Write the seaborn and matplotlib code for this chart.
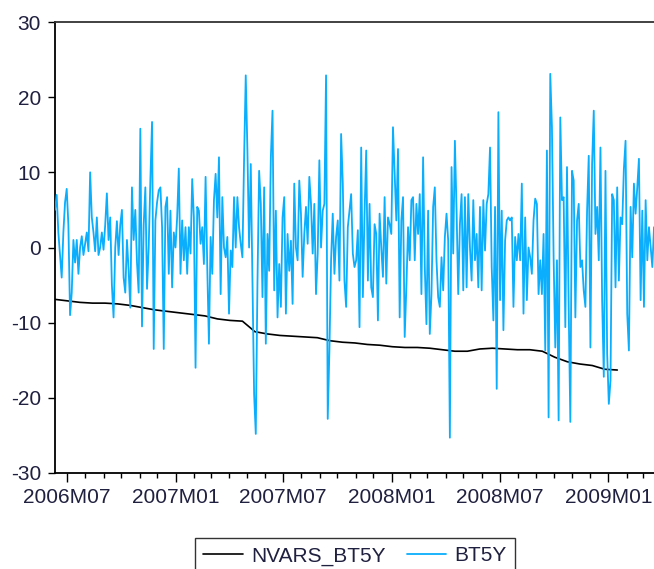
import matplotlib
matplotlib.use('Agg')
import numpy as np
import pandas as pd
import matplotlib.pyplot as plt
import matplotlib.dates as mdates
from matplotlib.ticker import FuncFormatter
import seaborn as sns

# ---- data (BT5Y, daily returns, in plot order) ----
bt5y_2006h2 = [5, 7, 2, -1, -4, 2, 6, 7.8, 3, -9, -6, 1, -2, 1, -3.5, 0, 1.5, -1, 0.5, 2,
               -0.5, 10, 4, 2, -0.5, 4, -1, 0, 2, -0.3, 3, 7.2, 1, 4, -5, -9.3, 0, 3.5, -1, 3,
               5, -4, -6, 1, -3, -8, 8, 1, 5, -2, -6, 15.8, -10.5, 3, 8, -5.5, 0, 9, 16.7, -13.5]
bt5y_2007a = [3.6, 6, 7.6, 8, 2.7, -13.5, 5.4, 6.7, -3.5, 4.9, -5.3, 2, 0, 4.0, 10.5, -3.5, 3.6, -1.7, 2.7, -3.5,
              2.7, -0.8, 9.1, 4.0, -16, 5.4, 4.9, 0.5, 2.7, -2.2, 9.4, -2.6, -12.8, 1.4, -3.5, 6.3, 9.8, 4.0, 12.0, -6.2,
              6.7, 0, -1.3, 1.4, -8.8, -0.4, -2.6, 6.7, 0, 6.7, 2.7, 0.5, -1.3, 11.6, 22.9, 12.9, 0, 11.1, -3.9, -19.5]
bt5y_2007b = [-24.8, -4.8, 10.2, 5.8, -6.6, 8.0, -12.8, 1.8, -3.1, 12.0, 18.2, -5.7, 4.9, -9.3, -2.2, -7.9, 4.0, 6.7, -8.8, 1.8,
              -3.1, 0.9, -7.5, 8.5, 0, -1.7, 8.9, 4.5, -3.9, 1.8, 5.4, 0.5, 9.4, 5.8, -0.8, 5.8, -6.2, -0.8, 11.6, 0,
              4.9, 5.8, 22.9, -22.8, -13.7, -1.7, 4.5, -3.5, 1.4, 3.6, -4.4, 15.1, 8.5, -4.4, -7.9, 2.7, 4.9, 7.1, -0.8, -2.6]
bt5y_2008a = [-1.7, 2.3, -10.6, 13.3, -6.6, 4.5, 12.9, -4.4, 5.8, -5.3, -6.6, 3.1, 1.8, -9.7, 4.5, 0, -3.9, 6.7, -4.8, 4.0,
              3.1, 1.8, 16.0, 9.8, 3.6, 13.1, -9.3, 3.6, 6.7, -11.9, -5.3, 2.7, -1.7, 6.3, 6.7, -1.7, 5.8, 1.8, 7.1, -6.2,
              12.0, -2.6, -10.2, 4.9, -11.5, -6.2, 5.4, 8.0, -1.7, -6.6, -7.9, -1.3, -5.7, 1.4, 4.5, 0.9, -25.3, 10.7, -0.8, 14.2]
bt5y_2008b = [4.9, -6.2, 3.1, 7.1, -5.7, 6.7, -5.3, 7.1, 0, -4.4, 6.3, -1.7, 1.8, -5.3, 5.4, -5.7, 6.3, -0.4, 5.8, 7.1,
              13.3, -2.6, -9.7, 5.4, -18.8, 18.0, -7.0, 4.9, -11.0, 0.9, 3.6, 4.0, 3.6, 4.0, -7.9, 1.4, -1.7, 1.8, -1.7, 8.5,
              -8.8, 4.0, -7.0, 0, -1.3, -3.5, 3.6, 6.5, 5.8, -6.2, -1.7, -6.2, 1.8, -13.7, 12.9, -22.6, 23.1, 16.0, -1.3, -13.3]
bt5y_2009 = [-1.7, -23, 17.3, 6.3, 6.7, -10.6, 10.7, -7.9, -23.2, 10.2, 8.9, -9.3, 3.6, 5.8, -2.6, -1.7, -5.7, -7.9, 4.9, 12.2,
             -13.3, 11.1, 18.2, 1.8, 5.4, -1.7, 13.3, -7.0, -17.2, 10.2, -14.1, -20.8, -17.7, 7.1, 6.3, -5.3, 8.0, -4.4, 4.0, 3.1,
             10.5, 14.2, -8.8, -13.7, 5.4, -1.3, 8.5, 4.5, 8.0, 11.8, -7.0, 4.9, -7.9, 6.3, -1.7, 2.7, 0, -2.6, 2.7]
bt5y = bt5y_2006h2 + bt5y_2007a + bt5y_2007b + bt5y_2008a + bt5y_2008b + bt5y_2009

nvars_bt5y = [-6.9, -7.1, -7.3, -7.4, -7.4, -7.5, -7.7, -8.0, -8.3, -8.5,
              -8.7, -8.9, -9.1, -9.5, -9.7, -9.8, -11.2, -11.5, -11.7, -11.8,
              -11.9, -12.0, -12.4, -12.6, -12.7, -12.9, -13.0, -13.2, -13.3, -13.3,
              -13.4, -13.6, -13.8, -13.8, -13.5, -13.4, -13.5, -13.6, -13.6, -13.8,
              -14.6, -15.2, -15.5, -15.7, -16.2, -16.3]

start_date = '2006-06-11'
bt5y_end = '2009-03-19'
nvars_end = '2009-01-16'
y_ticks = [-30, -20, -10, 0, 10, 20, 30]
series_names = ['NVARS_BT5Y', 'BT5Y']

# ---- build frames ----
df_bt = pd.DataFrame({'date': pd.date_range(start_date, bt5y_end, periods=len(bt5y)), 'value': bt5y})
df_nv = pd.DataFrame({'date': pd.date_range(start_date, nvars_end, periods=len(nvars_bt5y)), 'value': nvars_bt5y})

sns.set_style('white')
plt.rcParams['font.family'] = ['Liberation Sans', 'DejaVu Sans']
plt.rcParams['axes.unicode_minus'] = False

W, H = 654, 569
fig = plt.figure(figsize=(W / 100, H / 100), dpi=100)
ax = fig.add_axes([55 / W, 1 - 473 / H, 1 - 55 / W, (473 - 22) / H])

sns.lineplot(data=df_nv, x='date', y='value', color='black', lw=1.2, ax=ax, label=series_names[0], zorder=2)
sns.lineplot(data=df_bt, x='date', y='value', color='#0aaefc', lw=1.3, ax=ax, label=series_names[1], zorder=3)

ax.set_xlim(df_bt['date'].iloc[0], df_bt['date'].iloc[-1])
ax.set_ylim(-30, 30)
ax.set_yticks(y_ticks)
ax.set_xlabel('')
ax.set_ylabel('')

ax.xaxis.set_major_locator(mdates.MonthLocator(bymonth=[1, 7]))
ax.xaxis.set_minor_locator(mdates.MonthLocator())
ax.xaxis.set_major_formatter(FuncFormatter(lambda v, p: "{}M{:02d}".format(mdates.num2date(v).year, mdates.num2date(v).month)))

label_col = '#202040'
ax.tick_params(axis='x', which='major', direction='out', length=6.5, width=1.0, color='black',
               labelsize=15, labelcolor=label_col, pad=4, bottom=True)
ax.tick_params(axis='x', which='minor', direction='out', length=3.5, width=1.0, color='black', bottom=True)
ax.tick_params(axis='y', which='major', direction='out', length=5, width=1.0, color='black',
               labelsize=15, labelcolor=label_col, pad=5, left=True)

for s in ['left', 'bottom', 'top']:
    ax.spines[s].set_visible(True)
    ax.spines[s].set_color('black')
    ax.spines[s].set_linewidth(1.3)
ax.spines['top'].set_color('#333333')
ax.spines['right'].set_visible(False)
ax.grid(False)

handles, labels = ax.get_legend_handles_labels()
ax.legend_.remove()
leg = fig.legend(handles, labels, loc='upper left', bbox_to_anchor=(195 / W, 1 - 538 / H),
                 ncol=2, frameon=True, fancybox=False, edgecolor='black', fontsize=15,
                 borderpad=0.4, handlelength=1.9, handletextpad=0.4, columnspacing=1.0,
                 borderaxespad=0)
leg.get_frame().set_linewidth(1.0)
for t in leg.get_texts():
    t.set_color(label_col)

fig.savefig('out.png', dpi=100)
